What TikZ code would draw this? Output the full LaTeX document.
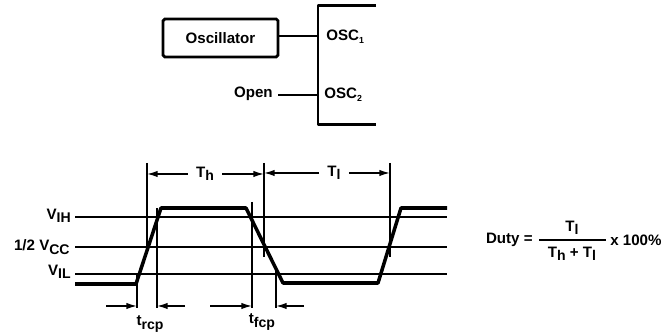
\documentclass[tikz,border=0pt]{standalone}
\usepackage{fontspec}
\setmainfont{Liberation Sans}
\usetikzlibrary{arrows,arrows.meta,shapes}
\newcommand{\sbs}[1]{\raisebox{-0.45ex}{\footnotesize #1}}
\tikzset{
    label/.style={inner sep=0pt,text=black,font=\fontsize{8.6}{10}\selectfont\bfseries},
    rightlabel/.style={label,anchor=east},
    leftlabel/.style={label,anchor=west},
    gridline/.style={line width=0.8pt,draw=black},
    busline/.style={line width=1.7pt,draw=black,line join=round},
    signal/.style={line width=2pt,draw=black,line join=round},
    dim/.style={-{Latex[length=6pt,width=3.6pt]},line width=0.8pt,draw=black}
}
\begin{document}
\begin{tikzpicture}[x=0.02cm,y=-0.02cm]
    \useasboundingbox (0,0) rectangle (666,333);

    \node[draw=black,line width=1.6pt,rounded corners=1pt,minimum width=2.3cm,minimum height=0.76cm,inner sep=0pt,label] (osc) at (220.5,38) {Oscillator};
    \node[rightlabel] (open) at (273,94) {Open};
    \coordinate (bustop) at (376,6);
    \coordinate (buscornertop) at (318,6);
    \coordinate (buscornerbot) at (318,125);
    \coordinate (busbot) at (376,125);
    \coordinate (pin1) at (318,36);
    \coordinate (pin2) at (318,95);
    \node[leftlabel] (osc1) at (326,37) {OSC\raisebox{-0.4ex}{\tiny 1}};
    \node[leftlabel] (osc2) at (324,95) {OSC\raisebox{-0.4ex}{\tiny 2}};
    \draw[busline] (bustop) -- (buscornertop) -- (buscornerbot) -- (busbot);
    \draw[gridline,line width=1.2pt] (osc.east |- pin1) -- (pin1);
    \draw[gridline,line width=1.2pt] (open.east) ++(5,1) -- (pin2);

    \node[rightlabel] (vih) at (71,216) {V\sbs{IH}};
    \node[rightlabel] (vcc) at (70,247) {1/2 V\sbs{CC}};
    \node[rightlabel] (vil) at (71,272) {V\sbs{IL}};
    \coordinate (vihend) at (447,217);
    \coordinate (vccend) at (447,247);
    \coordinate (vilend) at (447,274);
    \draw[gridline] (75,217) -- (vihend);
    \draw[gridline] (75,247) -- (vccend);
    \draw[gridline] (75,274) -- (vilend);

    \coordinate (s0) at (75,284);
    \coordinate (s1) at (136,284);
    \coordinate (s2) at (161,208);
    \coordinate (s3) at (246,208);
    \coordinate (s4) at (283,283);
    \coordinate (s5) at (378,283);
    \coordinate (s6) at (401,208);
    \coordinate (s7) at (447,208);
    \draw[signal] (s0) -- (s1) -- (s2) -- (s3) -- (s4) -- (s5) -- (s6) -- (s7);

    \coordinate (a1) at (147,163);
    \coordinate (a2) at (147,247);
    \coordinate (b1) at (264,163);
    \coordinate (b2) at (264,257);
    \coordinate (c1) at (390,163);
    \coordinate (c2) at (390,257);
    \draw[gridline] (a1) -- (a2);
    \draw[gridline] (b1) -- (b2);
    \draw[gridline] (c1) -- (c2);

    \coordinate (d1) at (137,274);
    \coordinate (d2) at (137,308);
    \coordinate (e1) at (157,208);
    \coordinate (e2) at (157,308);
    \coordinate (f1) at (252,202);
    \coordinate (f2) at (252,308);
    \coordinate (g1) at (276,270);
    \coordinate (g2) at (276,308);
    \draw[gridline] (d1) -- (d2);
    \draw[gridline] (e1) -- (e2);
    \draw[gridline] (f1) -- (f2);
    \draw[gridline] (g1) -- (g2);

    \node[label] (th) at (205,174) {T\sbs{h}};
    \node[label] (tl) at (334,173) {T\sbs{l}};
    \draw[dim] (th.west) ++(-8,0) -- (a1 |- th.west);
    \draw[dim] (th.east) ++(8,0) -- (b1 |- th.east);
    \draw[dim] (tl.west) ++(-8,0) -- (b1 |- tl.west);
    \draw[dim] (tl.east) ++(8,0) -- (c1 |- tl.east);

    \node[label] (trcp) at (150,324) {t\sbs{rcp}};
    \node[label] (tfcp) at (262,322) {t\sbs{fcp}};
    \coordinate (p1) at (106,306);
    \coordinate (p2) at (185,306);
    \coordinate (q1) at (210,306);
    \coordinate (q2) at (304,306);
    \draw[dim] (p1) -- (p1 -| d1);
    \draw[dim] (p2) -- (p2 -| e1);
    \draw[dim] (q1) -- (q1 -| f1);
    \draw[dim] (q2) -- (q2 -| g1);

    \node[rightlabel] (duty) at (533,240) {Duty =};
    \node[label] (num) at (572,228) {T\sbs{l}};
    \node[label] (den) at (572,254) {T\sbs{h} + T\sbs{l}};
    \node[leftlabel] (pct) at (610,240) {x 100\%};
    \coordinate (barleft) at (539,240);
    \coordinate (barright) at (606,240);
    \draw[gridline] (barleft) -- (barright);
\end{tikzpicture}
\end{document}
